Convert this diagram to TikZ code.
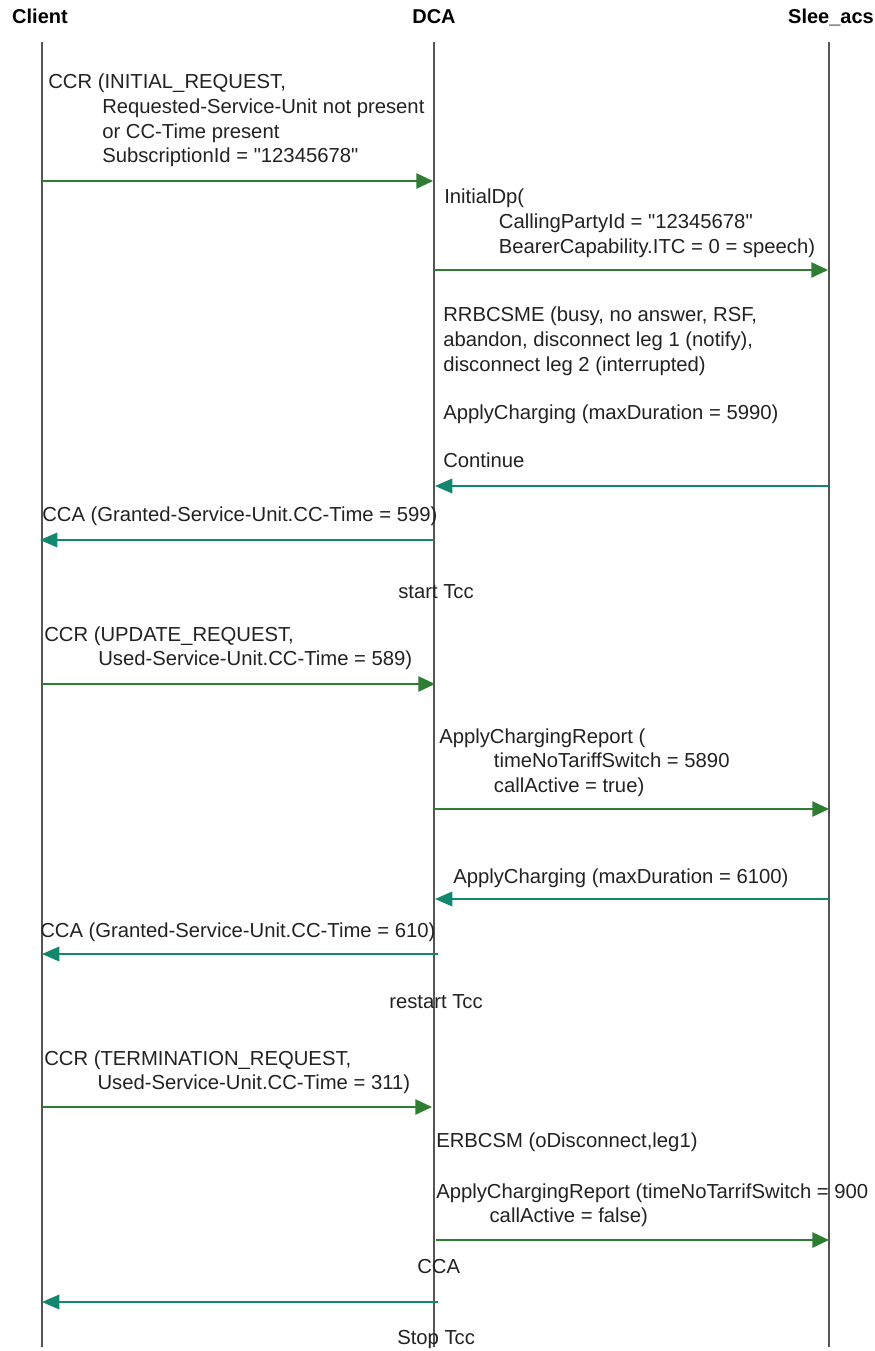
\documentclass[tikz,border=0pt]{standalone}
\usepackage{fontspec}
\setmainfont{Liberation Sans}[Ligatures=TeXOff]
\usetikzlibrary{arrows.meta}
\definecolor{lifegray}{HTML}{555555}
\definecolor{arrgreen}{HTML}{2E7D32}
\definecolor{arrteal}{HTML}{12876F}
\definecolor{textcol}{HTML}{222222}
\newcommand{\msgfont}{\fontsize{15.2pt}{18.4pt}\selectfont}
\newcommand{\hdrfont}{\fontsize{15pt}{18pt}\selectfont\bfseries}
\newcommand{\ind}[1]{\hspace*{#1}}
\tikzset{
  lifeline/.style={draw=lifegray, line width=1.3pt},
  reqarrow/.style={draw=arrgreen, line width=1.1pt, -{Triangle[length=12.5pt,width=11.5pt]}},
  resparrow/.style={draw=arrteal, line width=1.1pt, -{Triangle[length=13pt,width=11pt]}},
  msg/.style={anchor=base west, inner sep=0pt, font=\msgfont, text=textcol},
  hdr/.style={anchor=base, inner sep=0pt, font=\hdrfont, text=black},
}
\begin{document}
\begin{tikzpicture}[x=0.75pt,y=-0.75pt]
\useasboundingbox (0,0) rectangle (874,1351);
% headers
\node[hdr] (hclient) at (40,24) {Client};
\node[hdr] (hdca) at (434,24) {DCA};
\node[hdr] (hslee) at (831,24) {Slee\_acs};
% lifelines
\coordinate (cTop) at (42,42);   \coordinate (cBot) at (42,1347);
\coordinate (dTop) at (434,42);  \coordinate (dBot) at (434,1347);
\coordinate (sTop) at (829,42);  \coordinate (sBot) at (829,1347);
\draw[lifeline] (cTop) -- (cBot);
\draw[lifeline] (dTop) -- (dBot);
\draw[lifeline] (sTop) -- (sBot);
% message endpoints
\coordinate (a1s) at (42,181);  \coordinate (a1e) at (433,181);
\coordinate (a2s) at (434,270); \coordinate (a2e) at (828,270);
\coordinate (a3s) at (829,486); \coordinate (a3e) at (435,486);
\coordinate (a4s) at (434,540); \coordinate (a4e) at (40,540);
\coordinate (a5s) at (42,684);  \coordinate (a5e) at (435,684);
\coordinate (a6s) at (434,809); \coordinate (a6e) at (829,809);
\coordinate (a7s) at (829,899); \coordinate (a7e) at (435,899);
\coordinate (a8s) at (438,954); \coordinate (a8e) at (42,954);
\coordinate (a9s) at (42,1107); \coordinate (a9e) at (432,1107);
\coordinate (a10s) at (436,1240); \coordinate (a10e) at (829,1240);
\coordinate (a11s) at (438,1302); \coordinate (a11e) at (42,1302);
\draw[reqarrow] (a1s) -- (a1e);
\draw[reqarrow] (a2s) -- (a2e);
\draw[resparrow] (a3s) -- (a3e);
\draw[resparrow] (a4s) -- (a4e);
\draw[reqarrow] (a5s) -- (a5e);
\draw[reqarrow] (a6s) -- (a6e);
\draw[resparrow] (a7s) -- (a7e);
\draw[resparrow] (a8s) -- (a8e);
\draw[reqarrow] (a9s) -- (a9e);
\draw[reqarrow] (a10s) -- (a10e);
\draw[resparrow] (a11s) -- (a11e);
% labels
\node[msg] (t1) at (48,89) {\begin{tabular}[t]{@{}l@{}}CCR (INITIAL\_REQUEST,\\
\ind{40.5pt}Requested-Service-Unit not present\\
\ind{40.5pt}or CC-Time present\\
\ind{40.5pt}SubscriptionId = "12345678"\end{tabular}};
\node[msg] (t2) at (444,204) {\begin{tabular}[t]{@{}l@{}}InitialDp(\\
\ind{41pt}CallingPartyId = "12345678"\\
\ind{41pt}BearerCapability.ITC = 0 = speech)\end{tabular}};
\node[msg] (t3) at (443,322) {\begin{tabular}[t]{@{}l@{}}RRBCSME (busy, no answer, RSF,\\
abandon, disconnect leg 1 (notify),\\
disconnect leg 2 (interrupted)\end{tabular}};
\node[msg] (t4) at (443,419) {ApplyCharging (maxDuration = 5990)};
\node[msg] (t5) at (443,467) {Continue};
\node[msg] (t6) at (42,521) {CCA (Granted-Service-Unit.CC-Time = 599)};
\node[msg] (t7) at (398,598) {start Tcc};
\node[msg] (t8) at (44,641) {\begin{tabular}[t]{@{}l@{}}CCR (UPDATE\_REQUEST,\\
\ind{40.5pt}Used-Service-Unit.CC-Time = 589)\end{tabular}};
\node[msg] (t9) at (439,743) {\begin{tabular}[t]{@{}l@{}}ApplyChargingReport (\\
\ind{41pt}timeNoTariffSwitch = 5890\\
\ind{41pt}callActive = true)\end{tabular}};
\node[msg] (t10) at (453,883) {ApplyCharging (maxDuration = 6100)};
\node[msg] (t11) at (40,937) {CCA (Granted-Service-Unit.CC-Time = 610)};
\node[msg] (t12) at (389,1008) {restart Tcc};
\node[msg] (t13) at (44,1065) {\begin{tabular}[t]{@{}l@{}}CCR (TERMINATION\_REQUEST,\\
\ind{40pt}Used-Service-Unit.CC-Time = 311)\end{tabular}};
\node[msg] (t14) at (436,1147) {ERBCSM (oDisconnect,leg1)};
\node[msg] (t15) at (436,1198) {\begin{tabular}[t]{@{}l@{}}ApplyChargingReport (timeNoTarrifSwitch = 900\\
\ind{40pt}callActive = false)\end{tabular}};
\node[msg] (t16) at (417,1273) {CCA};
\node[msg] (t17) at (397,1344) {Stop Tcc};
\end{tikzpicture}
\end{document}
